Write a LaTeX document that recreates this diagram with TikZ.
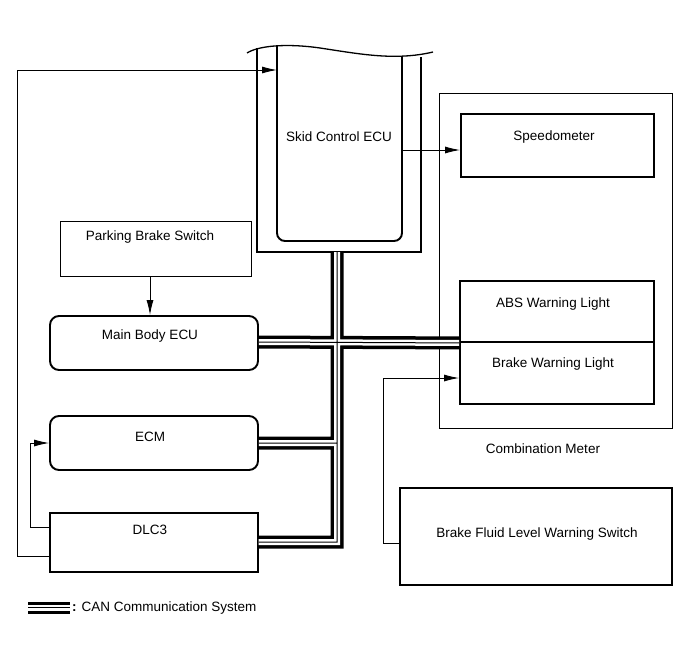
\documentclass[tikz,border=0pt]{standalone}
\usepackage{fontspec}
\setmainfont{Liberation Sans}
\usetikzlibrary{arrows.meta,calc}
\begin{document}
\begin{tikzpicture}[x=1pt,y=-1pt,
  every node/.style={font=\fontsize{13.5pt}{15pt}\selectfont, inner sep=0pt},
  thickbox/.style={draw, line width=1.9pt, rectangle},
  thinbox/.style={draw, line width=0.9pt, rectangle},
  rbox/.style={draw, line width=1.9pt, rectangle, rounded corners=9pt},
  conn/.style={line width=0.9pt},
  arr/.style={line width=0.9pt, -{Latex[length=15pt,width=7pt]}},
  busout/.style={line width=13pt},
  busgap/.style={white, line width=6pt},
  busmid/.style={line width=1pt}
]
\useasboundingbox (0,0) rectangle (690,659);

% Skid Control ECU
\coordinate (skidR) at (402,150);
\coordinate (skidL) at (277,70);
\coordinate (skidBot) at (337,252);
\draw[line width=1.3pt] (247,53) .. controls (258,46) and (285,43) .. (320,48)
  .. controls (360,54) and (395,61) .. (433,52);
\draw[line width=1.9pt] (257,48) -- (257,252) -- (421,252) -- (421,57);
\draw[line width=1.9pt, rounded corners=8pt] (277,46) -- (277,241) -- (402,241) -- (402,57);
\node (skidtxt) at (339,137) {Skid Control ECU};

% Combination meter
\node[thinbox, minimum width=233pt, minimum height=335pt] (cm) at (555.5,260.5) {};
\node (cmtxt) at (543,449) {Combination Meter};

% Speedometer
\node[thickbox, minimum width=193pt, minimum height=63pt] (spd) at (557.5,145.5) {};
\node (spdtxt) at (554,137) {Speedometer};

% ABS / Brake warning
\node[thickbox, minimum width=194pt, minimum height=61pt] (abs) at (557,311.5) {};
\node[thickbox, minimum width=194pt, minimum height=62pt] (bwl) at (557,373) {};
\node (abstxt) at (553,304) {ABS Warning Light};
\node (bwltxt) at (553,364) {Brake Warning Light};

% Brake fluid level switch
\node[thinbox, line width=1.3pt, minimum width=272pt, minimum height=97pt] (bfl) at (536,536.5) {};
\node (bfltxt) at (537,534) {Brake Fluid Level Warning Switch};

% Left side
\node[thinbox, minimum width=191pt, minimum height=55pt] (pbs) at (155.5,248.5) {};
\node (pbstxt) at (150,237) {Parking Brake Switch};
\node[rbox, minimum width=208pt, minimum height=54pt] (mb) at (154,343) {};
\node (mbtxt) at (150,336) {Main Body ECU};
\node[rbox, minimum width=208pt, minimum height=54pt] (ecm) at (154,443) {};
\node (ecmtxt) at (150,437) {ECM};
\node[thickbox, line width=1.4pt, minimum width=208pt, minimum height=59pt] (dlc) at (154,542.5) {};
\node (dlctxt) at (150,530) {DLC3};

% CAN bus
\coordinate (jn) at (337,342);
\coordinate (ecmj) at (337,443);
\coordinate (dlcj) at (337,542);
\def\buspaths{(skidBot) -- (jn) (mb.east |- jn) -- (abs.south west) (ecm.east) -- (ecmj) -- (jn) (dlc.east |- dlcj) -- (dlcj) -- (ecmj)}
\draw[busout] \buspaths;
\draw[busgap] \buspaths;
\draw[busmid] \buspaths;

% Signal connectors
\draw[arr] ($(dlc.west)+(0,13.5)$) -- (17,556) |- (skidL);
\draw[arr] ($(dlc.west)+(0,-15)$) -- (30,527.5) |- (ecm.west);
\draw[arr] (pbs.south -| 150,0) -- (mb.north -| 150,0);
\draw[arr] (skidR) -- (skidR -| spd.west);
\draw[arr] ($(bfl.west)+(0,6.5)$) -- (383,543) |- ($(bwl.west)+(0,5)$);

% Legend
\coordinate (lg1) at (28,607.5);
\coordinate (lg2) at (70,607.5);
\draw[busout, line width=12pt] (lg1) -- (lg2);
\draw[busgap, line width=6pt] (lg1) -- (lg2);
\draw[busmid] (lg1) -- (lg2);
\node[anchor=west] (lgtxt) at (72,608) {{\bfseries :} CAN Communication System};
\end{tikzpicture}
\end{document}
